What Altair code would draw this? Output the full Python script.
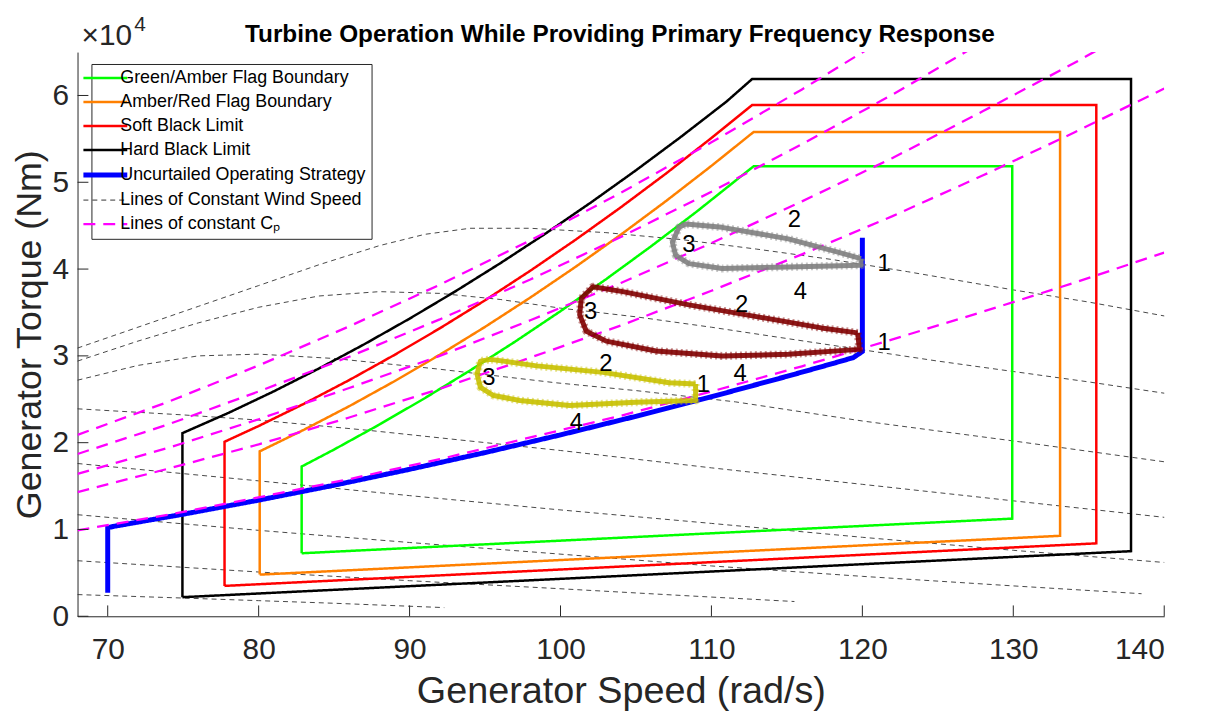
import altair as alt
import pandas as pd

FONT = "Liberation Sans"

# ---------------- legend series ----------------
SERIES = ["Green/Amber Flag Boundary", "Amber/Red Flag Boundary", "Soft Black Limit",
          "Hard Black Limit", "Uncurtailed Operating Strategy",
          "Lines of Constant Wind Speed", "Lines of constant Cₚ"]
SERIES_COLORS = ["#00FF00", "#FF8000", "#FF0000", "#000000", "#0000FF", "#333333", "#FF00FF"]
SERIES_DASH = [[1, 0], [1, 0], [1, 0], [1, 0], [1, 0], [5, 4], [12, 8]]

# ---------------- operating envelopes (closed paths) ----------------
GREEN_X = [82.85, 82.85, 85, 88, 91, 94, 97, 100, 103, 106, 109, 112.8, 129.93, 129.93, 82.85]
GREEN_Y = [7260, 17250, 19210, 22090, 25120, 28310, 31650, 35150, 38810, 42620, 46590,
           51850, 51850, 11250, 7260]

ORANGE_X = [80.07, 80.07, 83, 86, 89, 92, 95, 98, 101, 104, 107, 110, 112.8, 133.1, 133.1, 80.07]
ORANGE_Y = [4800, 19000, 21490, 24200, 27080, 30130, 33340, 36720, 40260, 43970, 47850,
            51890, 55800, 55800, 9270, 4800]

RED_X = [77.74, 77.74, 80, 83, 86, 89, 92, 95, 98, 101, 104, 107, 110, 112.7, 135.5, 135.5, 77.74]
RED_Y = [3500, 20100, 21920, 24480, 27210, 30110, 33170, 36400, 39810, 43380, 47120,
         51020, 55100, 58900, 58900, 8400, 3500]

BLACK_X = [74.95, 74.95, 78, 81, 84, 87, 90, 93, 96, 99, 102, 105, 108, 111, 112.7,
           137.8, 137.8, 74.95]
BLACK_Y = [2200, 21100, 23430, 25910, 28550, 31340, 34290, 37400, 40660, 44080, 47650,
           51380, 55260, 59300, 61900, 61900, 7500, 2200]

# ---------------- uncurtailed operating strategy ----------------
BLUE_X = [70.0, 70.0, 70.4, 75, 80, 85, 90, 95, 100, 105, 110, 115, 118, 119.4, 120.0, 120.0]
BLUE_Y = [2700, 10200, 10360, 11760, 13380, 15100, 16930, 18860, 20900, 23040, 25290,
          27640, 29100, 29800, 30500, 43600]

# ---------------- lines of constant wind speed ----------------
WA_X = [68, 72, 76, 80, 84, 88, 91, 94, 98, 103, 108, 113, 118, 123, 130, 135, 140]
WA_Y = [30900, 33300, 35700, 38100, 40500, 42700, 44000, 44700, 44700, 44200, 43400,
        42300, 41100, 39700, 37600, 36200, 34600]
WB_X = [68, 72, 76, 80, 84, 88, 92, 96, 100, 105, 110, 115, 120, 125, 130, 135, 140]
WB_Y = [29400, 31700, 33800, 35600, 36900, 37400, 37200, 36500, 35500, 34500, 33300,
        32000, 30700, 29400, 28200, 27000, 25700]
WC_X = [68, 72, 76, 80, 85, 91.8, 99.7, 105, 111.6, 120, 130, 140]
WC_Y = [27200, 28900, 30000, 30200, 29700, 28500, 26900, 26000, 24700, 22500, 20200, 17800]
WD_X = [68, 75, 80, 87.4, 94.5, 100, 110, 120, 130, 140]
WD_Y = [23900, 23200, 22600, 21400, 20100, 19100, 17100, 15200, 13300, 11400]
WE_X = [68, 80, 90, 99.7, 110, 120, 130, 140]
WE_Y = [17600, 15600, 13900, 12300, 10700, 9100, 7600, 6200]
WF_X = [68, 80, 90, 99.7, 110, 120, 130, 138.5]
WF_Y = [11700, 9900, 8500, 7200, 5800, 4600, 3500, 2600]
WG_X = [68, 80, 90, 99.7, 108, 115.5]
WG_Y = [6400, 5100, 4100, 3200, 2400, 1700]
WH_X = [68, 75, 80, 85, 92.3]
WH_Y = [2500, 2100, 1800, 1500, 1000]

# ---------------- lines of constant Cp ----------------
CP_X = [68, 74, 80, 86, 92, 98, 104, 110, 116, 122, 128, 134, 140]
CP1_Y = [9900, 11700, 13700, 15800, 18100, 20600, 23100, 25900, 28800, 31900, 35100, 38400, 41900]
CP2_Y = [14300, 17000, 19800, 22900, 26200, 29800, 33500, 37500, 41700, 46100, 50800, 55700, 60800]
CP3_Y = [16400, 19400, 22700, 26300, 30000, 34100, 38400, 43000, 47800, 52800, 58200, 63700, 69600]
CP4_Y = [18700, 22100, 25900, 29900, 34200, 38800, 43700, 48900, 54400, 60100, 66200]
CP5_Y = [20900, 24700, 28900, 33400, 38200, 43300, 48800, 54600, 60700, 67100]

# ---------------- frequency-response loops ----------------
GRAY_X = [119.91, 119.91, 115.09, 110.70, 108.51, 107.63, 107.41, 107.85, 108.3, 110.70,
          115.09, 118.38, 119.91]
GRAY_Y = [41200, 40450, 40250, 40060, 40630, 41580, 43100, 44810, 45200, 44810,
          43480, 41960, 41200]
DRED_X = [119.69, 119.80, 115.09, 110.70, 106.32, 103.03, 101.71, 101.27, 101.38, 102.15,
          104.13, 108.51, 112.89, 117.28, 119.69]
DRED_Y = [32650, 30750, 30180, 29990, 30560, 31700, 32840, 34740, 36640, 37970,
          37400, 35880, 34550, 33220, 32650]
YEL_X = [108.95, 108.95, 105.0, 100.6, 97.3, 95.57, 94.69, 94.47, 94.69, 95.35, 98.42,
         102.8, 107.2, 108.95]
YEL_Y = [26760, 24860, 24660, 24290, 24860, 25430, 26370, 27900, 29400, 29600, 28850,
         28100, 26900, 26760]

LABEL_T = ["2", "3", "1", "4", "2", "3", "1", "4", "2", "3", "1", "4"]
LABEL_X = [115.5, 108.5, 121.45, 115.9, 112.0, 102.0, 121.45, 111.9, 103.0, 95.26, 109.47, 101.05]
LABEL_Y = [45600, 42800, 40600, 37400, 35900, 35100, 31500, 27900, 29100, 27500, 26600, 22300]

XTICKS = [70, 80, 90, 100, 110, 120, 130, 140]
YTICKS = [0, 10000, 20000, 30000, 40000, 50000, 60000]

TITLE = "Turbine Operation While Providing Primary Frequency Response"

# ---------------- tables ----------------
rows = []


def add(series, line, xs, ys):
    for i, (xv, yv) in enumerate(zip(xs, ys)):
        rows.append({"series": series, "line": line, "idx": i, "x": xv, "y": yv})


add(SERIES[0], "green", GREEN_X, GREEN_Y)
add(SERIES[1], "orange", ORANGE_X, ORANGE_Y)
add(SERIES[2], "red", RED_X, RED_Y)
add(SERIES[3], "black", BLACK_X, BLACK_Y)
add(SERIES[4], "blue", BLUE_X, BLUE_Y)
for n, (xs, ys) in enumerate([(WA_X, WA_Y), (WB_X, WB_Y), (WC_X, WC_Y), (WD_X, WD_Y),
                              (WE_X, WE_Y), (WF_X, WF_Y), (WG_X, WG_Y), (WH_X, WH_Y)]):
    add(SERIES[5], f"wind{n}", xs, ys)
for n, ys in enumerate([CP1_Y, CP2_Y, CP3_Y, CP4_Y, CP5_Y]):
    add(SERIES[6], f"cp{n}", CP_X[:len(ys)], ys)
add("loop", "gray", GRAY_X, GRAY_Y)
add("loop", "dred", DRED_X, DRED_Y)
add("loop", "yel", YEL_X, YEL_Y)
df = pd.DataFrame(rows)

lab_df = pd.DataFrame({"t": LABEL_T, "x": LABEL_X, "y": LABEL_Y})
xt_df = pd.DataFrame({"x": XTICKS})
yt_df = pd.DataFrame({"y": YTICKS})
one = pd.DataFrame({"v": [0]})

# ---------------- encodings ----------------
XSC = alt.Scale(domain=[68, 140], nice=False, zero=False)
YSC = alt.Scale(domain=[0, 65000], nice=False, zero=False)
X = alt.X("x:Q", scale=XSC, axis=alt.Axis(values=XTICKS, title="Generator Speed (rad/s)",
                                          titlePadding=8, labelPadding=19, titleFontSize=38))
Y = alt.Y("y:Q", scale=YSC, axis=alt.Axis(values=YTICKS, labelExpr="datum.value / 10000",
                                          title="Generator Torque (Nm)", titlePadding=4,
                                          labelPadding=9, titleFontSize=36))
LEG = alt.Legend(orient="none", legendX=14, legendY=12, title=None, symbolType="stroke",
                 symbolSize=1950, rowPadding=6.2, labelFontSize=18, labelFont=FONT,
                 labelColor="#000000", labelOffset=6, padding=5, fillColor="#FFFFFF",
                 strokeColor="#262626", symbolOffset=0, labelLimit=400,
                 symbolStrokeWidth=alt.ExprRef(
                     expr="datum.value === 'Uncurtailed Operating Strategy' ? 5 : "
                          "(datum.value === 'Lines of Constant Wind Speed' ? 1 : 2.5)"))
COLOR = alt.Color("series:N", scale=alt.Scale(domain=SERIES, range=SERIES_COLORS), legend=LEG)
DASH = alt.StrokeDash("series:N", scale=alt.Scale(domain=SERIES, range=SERIES_DASH), legend=LEG)


def lines(names, width, clip=False):
    return alt.Chart(df).transform_filter(
        alt.FieldOneOfPredicate(field="series", oneOf=names)
    ).mark_line(clip=clip).encode(
        x=X, y=Y, color=COLOR, strokeDash=DASH, strokeWidth=alt.value(width),
        detail="line:N", order="idx:Q")


def loop(name, color):
    base = alt.Chart(df).transform_filter(
        alt.FieldEqualPredicate(field="line", equal=name))
    core = base.mark_line(color=color, strokeWidth=5, opacity=0.9,
                          strokeJoin="round").encode(x=X, y=Y, order="idx:Q")
    fuzz = base.mark_line(color=color, strokeWidth=8, opacity=0.45, strokeDash=[2, 3],
                          strokeJoin="round").encode(x=X, y=Y, order="idx:Q")
    return [core, fuzz]


wind = lines([SERIES[5]], 0.9)
bounds = lines(SERIES[0:4], 2.5)
blue = lines([SERIES[4]], 5)
cp = lines([SERIES[6]], 2.3, clip=True)

labels = alt.Chart(lab_df).mark_text(fontSize=24, font=FONT, color="#000000").encode(
    x=X, y=Y, text="t:N")

xticks = alt.Chart(xt_df).mark_rule(color="#262626", strokeWidth=1).encode(
    x=X, y=alt.datum(0), y2=alt.datum(1250))
yticks = alt.Chart(yt_df).mark_rule(color="#262626", strokeWidth=1).encode(
    y=Y, x=alt.datum(68), x2=alt.datum(68.72))

exp10 = alt.Chart(one).mark_text(text="×10", fontSize=30, font=FONT, color="#262626",
                                  align="left", baseline="alphabetic").encode(
    x=alt.value(4), y=alt.value(-7))
exp4 = alt.Chart(one).mark_text(text="4", fontSize=21, font=FONT, color="#262626",
                                align="left", baseline="alphabetic").encode(
    x=alt.value(57), y=alt.value(-21))
title = alt.Chart(one).mark_text(text=TITLE, fontSize=24.5, fontWeight="bold", font=FONT,
                                 color="#000000", align="center",
                                 baseline="alphabetic").encode(
    x=alt.value(546), y=alt.value(-10))

chart = alt.layer(
    wind, bounds, blue, cp,
    *loop("gray", "#808080"), *loop("dred", "#800000"), *loop("yel", "#C8C000"),
    labels, xticks, yticks, exp10, exp4, title
).properties(
    width=1094, height=568,
    padding={"left": 70, "top": 42, "right": 33, "bottom": 95},
    autosize=alt.AutoSizeParams(type="none")
).configure_view(stroke=None).configure_axis(
    labelFont=FONT, titleFont=FONT, labelFontSize=30,
    titleFontWeight="normal", labelColor="#262626", titleColor="#262626",
    domainColor="#262626", domainWidth=1, ticks=False, grid=False
)

chart.save("out.html", embed_options={"renderer": "svg", "actions": False})
